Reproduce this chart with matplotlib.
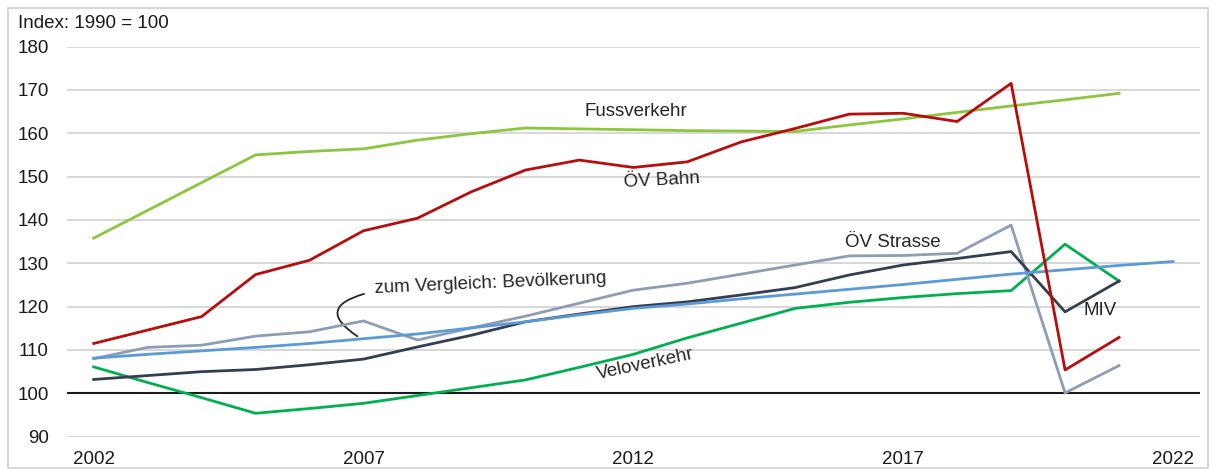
import matplotlib
matplotlib.use("Agg")
import matplotlib.pyplot as plt
from matplotlib.patches import Rectangle

plt.rcParams['font.family'] = ['Liberation Sans', 'DejaVu Sans']

years = list(range(2002, 2023))
xtick_years = [2002, 2007, 2012, 2017, 2022]
yticks = [90, 100, 110, 120, 130, 140, 150, 160, 170, 180]

fussverkehr = [135.8, 142.2, 148.6, 155.0, 155.8, 156.4, 158.4, 159.9, 161.2, 161.0,
               160.8, 160.6, 160.5, 160.4, 161.9, 163.3, 164.8, 166.3, 167.7, 169.2]
oev_bahn = [111.5, 114.6, 117.7, 127.4, 130.7, 137.5, 140.4, 146.5, 151.5, 153.8,
            152.1, 153.4, 158.0, 161.1, 164.4, 164.6, 162.7, 171.5, 105.4, 112.9]
oev_strasse = [108.0, 110.6, 111.1, 113.2, 114.2, 116.7, 112.3, 115.1, 117.8, 120.8,
               123.8, 125.4, 127.5, 129.6, 131.7, 131.8, 132.3, 138.8, 100.1, 106.4]
miv = [103.2, 104.1, 105.0, 105.5, 106.6, 107.9, 110.7, 113.4, 116.5, 118.3,
       120.0, 121.1, 122.7, 124.4, 127.3, 129.6, 131.1, 132.7, 118.8, 125.9]
bevoelkerung = [108.1, 109.0, 109.8, 110.6, 111.5, 112.6, 113.7, 115.1, 116.5, 118.1,
                119.6, 120.6, 121.8, 122.9, 124.0, 125.1, 126.3, 127.5, 128.5, 129.5, 130.4]
veloverkehr = [106.1, 102.5, 99.0, 95.4, 96.5, 97.7, 99.5, 101.3, 103.1, 106.0,
               109.0, 112.8, 116.2, 119.6, 121.0, 122.1, 123.0, 123.7, 134.4, 125.9]

W, H = 1216, 472
fig = plt.figure(figsize=(W / 100, H / 100), dpi=100)
ax = fig.add_axes([66.7 / W, 1 - 436.7 / H, (1200 - 66.7) / W, (436.7 - 46.5) / H])

# figure border
fig.patches.append(Rectangle((8 / W, 4 / H), 1200 / W, (H - 12) / H, transform=fig.transFigure,
                             fill=False, edgecolor='#d0d0d0', lw=1.2))

for v in yticks:
    if v == 100:
        ax.axhline(v, color='#1a1a1a', lw=1.5, zorder=1)
    else:
        ax.axhline(v, color='#d4d4d4', lw=1.3, zorder=0)

lw = 2.0
ax.plot(years[:20], fussverkehr, color='#8cc63e', lw=lw, zorder=3)
ax.plot(years[:20], veloverkehr, color='#00b050', lw=lw, zorder=4)
ax.plot(years, bevoelkerung, color='#5b9bd5', lw=lw, zorder=5)
ax.plot(years[:20], oev_strasse, color='#8e9db5', lw=lw, zorder=4)
ax.plot(years[:20], miv, color='#333f50', lw=lw, zorder=4)
ax.plot(years[:20], oev_bahn, color='#b80d0d', lw=lw, zorder=6)

fs = 13.5
ax.set_xlim(2001.5, 2022.5)
ax.set_ylim(90, 180)
ax.set_yticks(yticks)
ax.set_xticks(xtick_years)
ax.set_xticklabels([str(y) for y in xtick_years])
ax.tick_params(axis='both', length=0, labelsize=fs, colors='#1a1a1a')
ax.tick_params(axis='y', pad=13)
ax.tick_params(axis='x', pad=10)
for s in ax.spines.values():
    s.set_visible(False)

fig.text(18 / W, 1 - 24 / H, 'Index: 1990 = 100', fontsize=fs, color='#1a1a1a',
         ha='left', va='center')

tc = '#262626'
ax.text(2012.05, 164.9, 'Fussverkehr', fontsize=fs, color=tc, ha='center', va='center')
ax.text(2012.53, 149.2, 'ÖV Bahn', fontsize=fs, color=tc, ha='center', va='center', rotation=3)
ax.text(2016.8, 134.7, 'ÖV Strasse', fontsize=fs, color=tc, ha='center', va='center')
ax.text(2009.36, 125.4, 'zum Vergleich: Bevölkerung', fontsize=fs, color=tc,
        ha='center', va='center', rotation=2.5)
ax.text(2012.22, 106.6, 'Veloverkehr', fontsize=fs, color=tc, ha='center', va='center', rotation=12)
ax.text(2020.65, 119.0, 'MIV', fontsize=fs, color=tc, ha='center', va='center')

ax.annotate('', xy=(2006.93, 112.8), xytext=(2007.06, 123.1),
            arrowprops=dict(arrowstyle='-', color='#262626', lw=1.3,
                            connectionstyle='arc3,rad=1.15'))

fig.savefig('out.png', dpi=100)
